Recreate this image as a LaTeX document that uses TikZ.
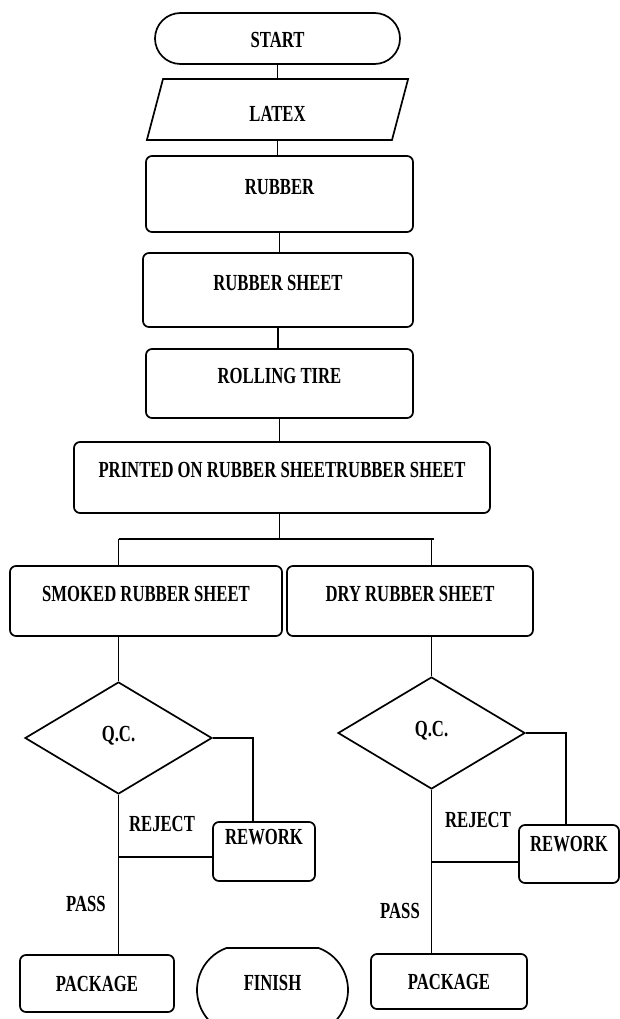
\documentclass[tikz,border=0pt]{standalone}
\usepackage{fontspec}
\newfontfamily\boxfont{Liberation Serif}[FakeStretch=0.725]
\usetikzlibrary{shapes.geometric,shapes.misc}

\begin{document}
\begin{tikzpicture}[x=1pt,y=-1pt,line width=1.7pt,
	every node/.style={font=\boxfont\bfseries\fontsize{23}{27}\selectfont,inner sep=0pt},
	box/.style={draw,rectangle,rounded corners=6pt,text height=12pt,text depth=12pt},
	term/.style={draw,rounded rectangle,text height=12pt,text depth=12pt},
	data/.style={draw,trapezium,trapezium left angle=81,trapezium right angle=99,trapezium stretches=true,text height=25pt,text depth=0pt},
	test/.style={draw,diamond,text height=15pt,text depth=9pt}]
		\clip (0,0) rectangle (620,1019);
		\path (277.5,38.5) node(start) [term,minimum width=245pt,minimum height=51pt,text height=19pt,text depth=0pt] {START};
		\path (277.5,109.5) node(latex) [data,minimum width=263pt,minimum height=61pt] {LATEX};
		\path (279.5,194) node(rubber) [box,minimum width=267pt,minimum height=76pt] {RUBBER};
		\path (278,290) node(rubber_sheet) [box,minimum width=270pt,minimum height=74pt] {RUBBER SHEET};
		\path (279.5,383.5) node(rolling) [box,minimum width=267pt,minimum height=69pt] {ROLLING TIRE};
		\path (282,477.5) node(printed) [box,minimum width=416pt,minimum height=71pt] {PRINTED ON RUBBER SHEETRUBBER SHEET};
		\path (146,601) node(smoked) [box,minimum width=272pt,minimum height=70pt] {SMOKED RUBBER SHEET};
		\path (410,601) node(dry) [box,minimum width=246pt,minimum height=70pt] {DRY RUBBER SHEET};

		\path (118.5,738) node(qc_smoked) [test,minimum width=187pt,minimum height=112pt] {Q.C.};
		\path (264,851.5) node(rework_smoked) [box,minimum width=102pt,minimum height=59pt,text depth=27pt] {REWORK};
		\path (97,983.5) node(package_smoked) [box,minimum width=154pt,minimum height=57pt,text height=15pt,text depth=0pt] {PACKAGE};
		\path (162,824) node(reject_smoked) {REJECT};
		\path (86,904) node(pass_smoked) {PASS};

		\path (431.5,733) node(qc_dry) [test,minimum width=187pt,minimum height=112pt] {Q.C.};
		\path (569,854) node(rework_dry) [box,minimum width=100pt,minimum height=58pt,text depth=18pt] {REWORK};
		\path (449,981.5) node(package_dry) [box,minimum width=156pt,minimum height=55pt,text height=15pt,text depth=0pt] {PACKAGE};
		\path (478,820) node(reject_dry) {REJECT};
		\path (400,911) node(pass_dry) {PASS};

		\path (272.5,990) node(finish) [term,rounded rectangle arc length=140,minimum width=151pt,minimum height=84pt] {FINISH};

		\draw (start.south) -- (start.south |- latex.north);
		\draw (latex.south) -- (latex.south |- rubber.north);
		\draw (rubber.south) -- (rubber.south |- rubber_sheet.north);
		\draw (rubber_sheet.south) -- (rubber_sheet.south |- rolling.north);
		\draw (rolling.south) -- (rolling.south |- printed.north);
		\draw (rolling.south |- printed.south) -- ++(0,25) coordinate (fork);
		\draw (qc_smoked.north |- fork) -- ([xshift=2pt]qc_dry.north |- fork);
		\draw (qc_smoked.north |- fork) -- (qc_smoked.north |- smoked.north);
		\draw (qc_dry.north |- fork) -- (qc_dry.north |- dry.north);
		\draw (qc_smoked.north |- smoked.south) -- (qc_smoked.north);
		\draw (qc_dry.north |- dry.south) -- (qc_dry.north);

		\draw (qc_smoked.east) -- ++(40,0) coordinate (back_smoked) -- (back_smoked |- rework_smoked.north);
		\path ([yshift=-5.5pt]rework_smoked.west) coordinate (join_smoked);
		\draw (join_smoked) -- (qc_smoked.south |- join_smoked);
		\draw (qc_smoked.south) -- (qc_smoked.south |- package_smoked.north);

		\draw (qc_dry.east) -- ++(40,0) coordinate (back_dry) -- (back_dry |- rework_dry.north);
		\path ([yshift=-8pt]rework_dry.west) coordinate (join_dry);
		\draw (join_dry) -- (qc_dry.south |- join_dry);
		\draw (qc_dry.south) -- (qc_dry.south |- package_dry.north);
	\end{tikzpicture}
\end{document}
